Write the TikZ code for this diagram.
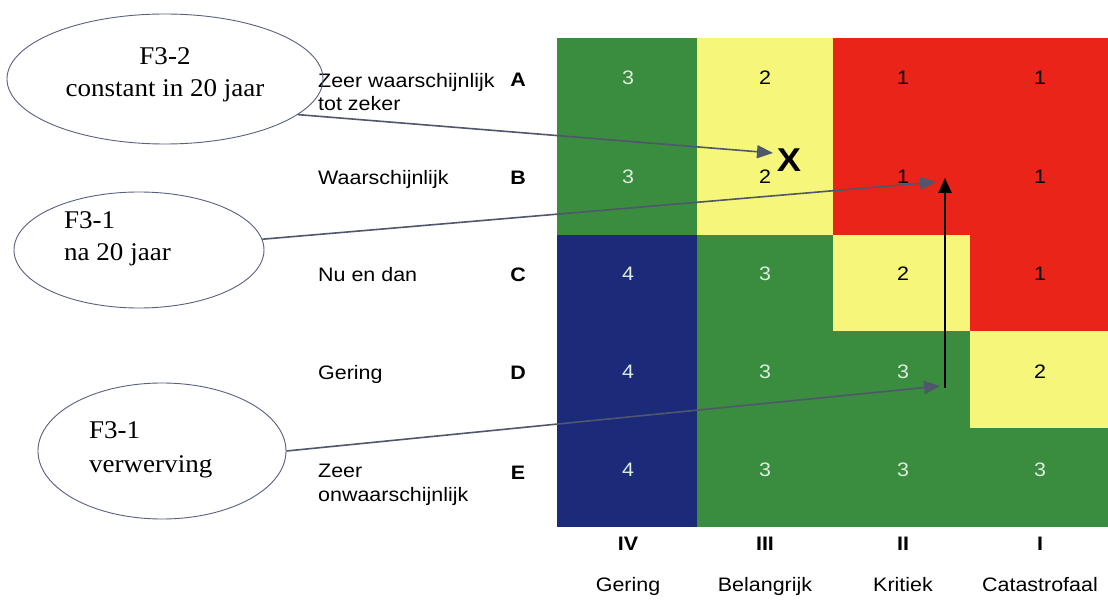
\documentclass[tikz,border=0pt]{standalone}
\usepackage{fontspec}
\usetikzlibrary{shapes.geometric,arrows.meta}
\newfontfamily\labfont[FakeStretch=1.1]{Liberation Sans}
\newfontfamily\elfont[FakeStretch=1.06]{Liberation Serif}
\definecolor{cgreen}{RGB}{58,140,62}
\definecolor{cyellow}{RGB}{246,246,122}
\definecolor{cred}{RGB}{234,36,24}
\definecolor{cblue}{RGB}{28,42,122}
\definecolor{cgnum}{RGB}{222,236,222}
\definecolor{carrow}{RGB}{80,86,108}
\definecolor{cell}{RGB}{90,96,128}
\tikzset{
  ell/.style={draw=cell,line width=0.9pt,ellipse,inner sep=0pt},
  eltext/.style={font=\elfont\fontsize{25.5}{32}\selectfont,inner sep=0pt},
  lab/.style={font=\labfont\fontsize{19.5}{23.5}\selectfont,inner sep=0pt,align=left,anchor=base west},
  letter/.style={font=\labfont\bfseries\fontsize{19.5}{23.5}\selectfont,inner sep=0pt,anchor=base},
  wnum/.style={font=\labfont\fontsize{19.5}{23.5}\selectfont,inner sep=0pt,anchor=base,text=cgnum},
  bnum/.style={font=\labfont\fontsize{19.5}{23.5}\selectfont,inner sep=0pt,anchor=base,text=black},
  garrow/.style={draw=carrow,line width=1.6pt,-{Triangle[length=16pt,width=13pt]}},
  barrow/.style={draw=black,line width=2.4pt,-{Triangle[length=15pt,width=13pt]}},
}
\begin{document}
\begin{tikzpicture}[x=1pt,y=-1pt]
\useasboundingbox (0,0) rectangle (1108,601);
\fill[white] (0,0) rectangle (1108,601);
% grid cells
% row A
\fill[cgreen]  (557,38) rectangle (697,135);
\fill[cyellow] (697,38) rectangle (833,135);
\fill[cred]    (833,38) rectangle (1108,135);
% row B
\fill[cgreen]  (557,135) rectangle (697,235);
\fill[cyellow] (697,135) rectangle (833,235);
\fill[cred]    (833,135) rectangle (1108,235);
% row C
\fill[cblue]   (557,235) rectangle (697,331);
\fill[cgreen]  (697,235) rectangle (833,331);
\fill[cyellow] (833,235) rectangle (970,331);
\fill[cred]    (970,235) rectangle (1108,331);
% row D
\fill[cblue]   (557,331) rectangle (697,428);
\fill[cgreen]  (697,331) rectangle (970,428);
\fill[cyellow] (970,331) rectangle (1108,428);
% row E
\fill[cblue]   (557,428) rectangle (697,527);
\fill[cgreen]  (697,428) rectangle (1108,527);
% numbers
\node[wnum] (a4) at (628,85) {3};
\node[bnum] (a3) at (765,85) {2};
\node[bnum] (a2) at (903,85) {1};
\node[bnum] (a1) at (1040,85) {1};
\node[wnum] (b4) at (628,184) {3};
\node[bnum] (b3) at (765,184) {2};
\node[bnum] (b2) at (903,184) {1};
\node[bnum] (b1) at (1040,184) {1};
\node[wnum] (c4) at (628,281) {4};
\node[wnum] (c3) at (765,281) {3};
\node[bnum] (c2) at (903,281) {2};
\node[bnum] (c1) at (1040,281) {1};
\node[wnum] (d4) at (628,378) {4};
\node[wnum] (d3) at (765,378) {3};
\node[wnum] (d2) at (903,378) {3};
\node[bnum] (d1) at (1040,378) {2};
\node[wnum] (e4) at (628,476) {4};
\node[wnum] (e3n) at (765,476) {3};
\node[wnum] (e2n) at (903,476) {3};
\node[wnum] (e1n) at (1040,476) {3};
% row labels (base = baseline of last line)
\node[lab] (lA) at (318,111) {Zeer waarschijnlijk\\tot zeker};
\node[lab] (lB) at (318,185) {Waarschijnlijk};
\node[lab] (lC) at (318,282) {Nu en dan};
\node[lab] (lD) at (318,380) {Gering};
\node[lab] (lE) at (318,501) {Zeer\\onwaarschijnlijk};
\node[letter] (kA) at (518,87) {A};
\node[letter] (kB) at (518,185) {B};
\node[letter] (kC) at (518,282) {C};
\node[letter] (kD) at (518,380) {D};
\node[letter] (kE) at (518,479) {E};
% column labels
\node[letter] (r4) at (628,550) {IV};
\node[letter] (r3) at (765,550) {III};
\node[letter] (r2) at (903,550) {II};
\node[letter] (r1) at (1040,550) {I};
\node[lab,anchor=base] (n4) at (628,591) {Gering};
\node[lab,anchor=base] (n3) at (765,591) {Belangrijk};
\node[lab,anchor=base] (n2) at (903,591) {Kritiek};
\node[lab,anchor=base] (n1) at (1040,591) {Catastrofaal};
% ellipses
\node[ell,minimum width=316pt,minimum height=130pt] (e1) at (165,79) {};
\node[ell,minimum width=250pt,minimum height=116pt] (e2) at (139,250) {};
\node[ell,minimum width=248pt,minimum height=136pt] (e3) at (162,451) {};
\node[eltext,anchor=base,align=center] (t1) at (165,97) {F3-2\\constant in 20 jaar};
\node[eltext,anchor=base west,align=left] (t2) at (64,261) {F3-1\\na 20 jaar};
\node[eltext,anchor=base west,align=left,font=\elfont\fontsize{25.5}{34}\selectfont] (t3) at (89,472) {F3-1\\verwerving};
% X mark
\node[font=\labfont\bfseries\fontsize{33}{33}\selectfont,inner sep=0pt,anchor=base] (xm) at (789,172) {X};
% target coordinates
\coordinate (p1) at (773,153);
\coordinate (p2) at (936,182);
\coordinate (p3) at (940,386);
\coordinate (v0) at (945,388);
\coordinate (v1) at (945,178);
% arrows
\draw[barrow] (v0) -- (v1);
\draw[garrow] (e1.-15) -- (p1);
\draw[garrow] (e2.5) -- (p2);
\draw[garrow] (e3.0) -- (p3);
\end{tikzpicture}
\end{document}
